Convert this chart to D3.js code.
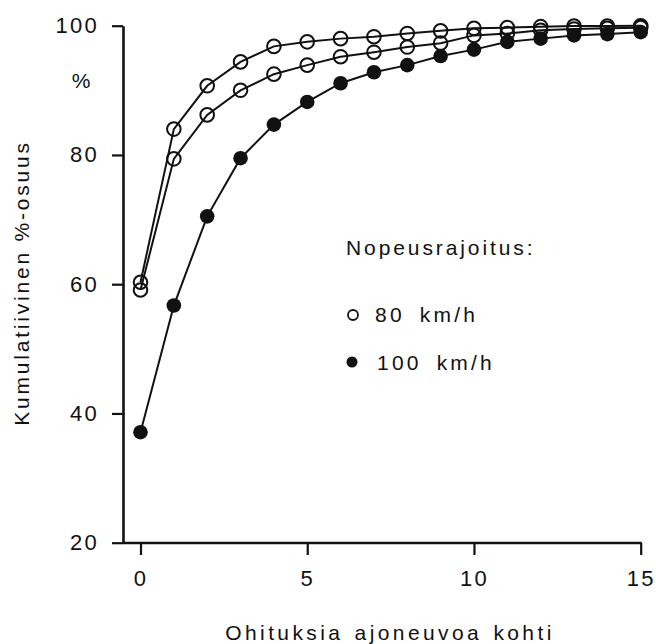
<!DOCTYPE html>
<html><head><meta charset="utf-8">
<script src="https://cdn.jsdelivr.net/npm/d3@7/dist/d3.min.js"></script>
<style>
body{margin:0;background:#fff;}
text{font-family:"Liberation Sans",Arial,sans-serif;fill:#111;}
</style></head>
<body><svg id="c" width="656" height="644"></svg>
<script>
const passes = [0,1,2,3,4,5,6,7,8,9,10,11,12,13,14,15];
const seriesA80 = [60.3,84.0,90.7,94.4,96.8,97.5,98.0,98.3,98.8,99.2,99.6,99.7,99.85,99.95,99.95,100];
const seriesB80 = [59.1,79.4,86.2,90.0,92.5,93.9,95.2,95.9,96.7,97.3,98.5,98.8,99.3,99.5,99.6,99.7];
const series100 = [37.1,56.7,70.5,79.5,84.7,88.2,91.1,92.8,93.9,95.3,96.3,97.5,98.0,98.5,98.7,99.0];
const yTicks = [20,40,60,80,100];
const xTicks = [0,5,10,15];
const yTitle = "Kumulatiivinen %-osuus";
const xTitle = "Ohituksia ajoneuvoa kohti";
const legendTitle = "Nopeusrajoitus:";
const legendLabels = ["80 km/h","100 km/h"];

const svg = d3.select("#c");
const x = d3.scaleLinear().domain([0,15]).range([140.5,640.7]);
const y = d3.scaleLinear().domain([20,100]).range([542.7,25.7]);
const axX = 123, axY = 543;
const ink = "#111";
const ff = '"Liberation Sans",Arial,sans-serif';

// y axis
const ya = svg.append("g").attr("transform",`translate(${axX},0)`)
  .call(d3.axisLeft(y).tickValues(yTicks).tickSize(11).tickSizeOuter(0).tickPadding(13));
ya.select(".domain").attr("stroke",ink).attr("stroke-width",2.6);
ya.selectAll(".tick line").attr("stroke",ink).attr("stroke-width",2.2);
ya.selectAll(".tick text").attr("font-size",22).attr("letter-spacing",2.3).attr("fill",ink)
  .style("font-family",ff);

// x axis
const xa = svg.append("g").attr("transform",`translate(0,${axY})`)
  .call(d3.axisBottom(x).tickValues(xTicks).tickSize(12).tickSizeOuter(0).tickPadding(15));
xa.select(".domain").remove();
xa.append("line").attr("x1",axX).attr("x2",x(15)+1).attr("y1",0).attr("y2",0)
  .attr("stroke",ink).attr("stroke-width",2.6);
xa.selectAll(".tick line").attr("stroke",ink).attr("stroke-width",2.2);
xa.selectAll(".tick text").attr("font-size",22).attr("letter-spacing",2.3).attr("fill",ink)
  .style("font-family",ff);

// titles
svg.append("text").attr("x",390).attr("y",640).attr("text-anchor","middle")
  .attr("font-size",21).attr("letter-spacing",3.4).attr("word-spacing",2).text(xTitle);
svg.append("text").attr("transform","translate(29,283) rotate(-90)").attr("text-anchor","middle")
  .attr("font-size",21).attr("letter-spacing",2.8).text(yTitle);
svg.append("text").attr("x",81).attr("y",88).attr("text-anchor","middle")
  .attr("font-size",21).text("%");

// lines
const line = d3.line().x((d,i)=>x(passes[i])).y(d=>y(d));
[seriesA80, seriesB80, series100].forEach(s=>{
  svg.append("path").datum(s).attr("d",line).attr("fill","none")
    .attr("stroke",ink).attr("stroke-width",2);
});
// markers
[seriesA80, seriesB80].forEach(s=>{
  svg.append("g").selectAll("circle").data(s).join("circle")
    .attr("cx",(d,i)=>x(passes[i])).attr("cy",d=>y(d)).attr("r",6.8)
    .attr("fill","none").attr("stroke",ink).attr("stroke-width",2);
});
svg.append("g").selectAll("circle").data(series100).join("circle")
  .attr("cx",(d,i)=>x(passes[i])).attr("cy",d=>y(d)).attr("r",7.3)
  .attr("fill",ink);

// legend
svg.append("text").attr("x",346).attr("y",255).attr("font-size",21)
  .attr("letter-spacing",2.9).text(legendTitle);
svg.append("circle").attr("cx",353).attr("cy",315).attr("r",5).attr("fill","none")
  .attr("stroke",ink).attr("stroke-width",1.8);
svg.append("circle").attr("cx",352).attr("cy",362).attr("r",5.5).attr("fill",ink);
svg.append("text").attr("x",375).attr("y",322).attr("font-size",21)
  .attr("letter-spacing",3.2).attr("word-spacing",6).text(legendLabels[0]);
svg.append("text").attr("x",377).attr("y",370).attr("font-size",21)
  .attr("letter-spacing",3.2).attr("word-spacing",6).text(legendLabels[1]);
</script></body></html>
